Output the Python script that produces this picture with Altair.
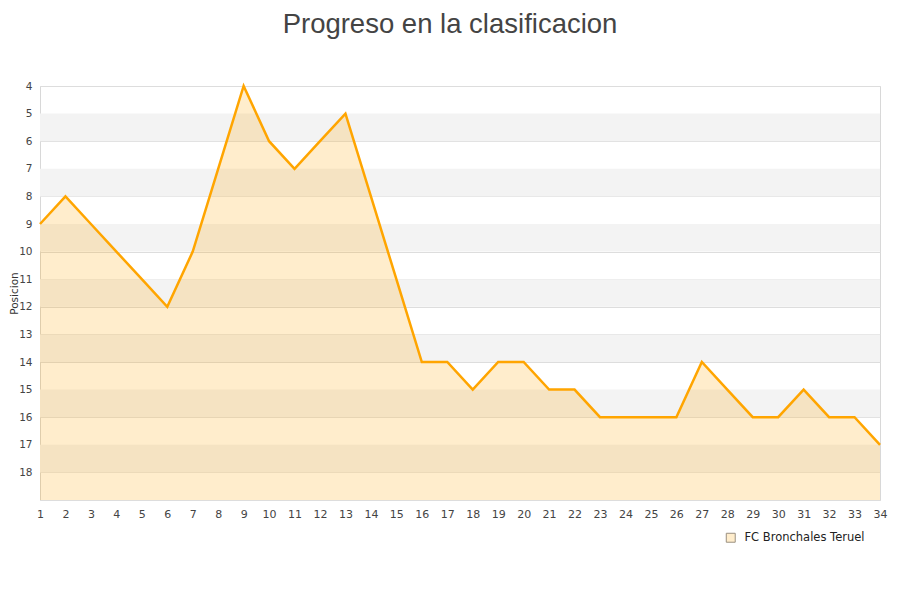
import altair as alt
import pandas as pd

jornadas = list(range(1, 35))
posiciones = [9, 8, 9, 10, 11, 12, 10, 7, 4, 6, 7, 6, 5, 8, 11, 14, 14, 15, 14, 14,
              15, 15, 16, 16, 16, 16, 14, 15, 16, 16, 15, 16, 16, 17]
equipo = "FC Bronchales Teruel"
band_starts = [5, 7, 9, 11, 13, 15, 17]
y_ticks = list(range(4, 20))
x_ticks = list(range(1, 35))
y_min, y_max = 4, 19

df = pd.DataFrame({"Jornada": jornadas, "Posicion": posiciones,
                   "Equipo": [equipo] * len(jornadas), "Base": [y_max] * len(jornadas)})
bands = pd.DataFrame({"y1": band_starts, "y2": [b + 1 for b in band_starts]})

xscale = alt.Scale(domain=[1, 34], nice=False, zero=False)
yscale = alt.Scale(domain=[y_min, y_max], reverse=True, nice=False, zero=False)

band_layer = alt.Chart(bands).mark_rect(color="#f3f3f3").encode(
    y=alt.Y("y1:Q", scale=yscale,
            axis=alt.Axis(values=y_ticks, tickCount=60, format="d", title="Posicion", grid=True,
                          gridColor="#dddddd",
                          ticks=False, domain=False, labelPadding=8, labelOverlap=False,
                          labelExpr="datum.value == 19 ? '' : datum.label",
                          labelFont="DejaVu Sans", labelFontSize=10.5, labelColor="#444444",
                          titleFont="DejaVu Sans", titleFontSize=10.5, titleFontWeight="normal",
                          titleColor="#333333", titleX=-21, titleY=207)),
    y2="y2:Q",
    x=alt.value(0),
    x2=alt.value(840),
)

area = alt.Chart(df).mark_area(opacity=0.2, color="#FFA500").encode(
    x=alt.X("Jornada:Q", scale=xscale,
            axis=alt.Axis(values=x_ticks, tickCount=60, format="d", title=None, grid=False,
                          ticks=False, domain=False,
                          labelPadding=8, labelFont="DejaVu Sans", labelFontSize=11,
                          labelColor="#444444", labelFlush=False, labelOverlap=False)),
    y=alt.Y("Posicion:Q", scale=yscale),
    y2="Base:Q",
)

legend_layer = alt.Chart(df).mark_point(shape="square", filled=True, opacity=0).encode(
    x=alt.X("Jornada:Q", scale=xscale),
    y=alt.Y("Posicion:Q", scale=yscale),
    color=alt.Color("Equipo:N", scale=alt.Scale(range=["#FFEDCC"]),
                    legend=alt.Legend(title=None, orient="none", legendX=685, legendY=446,
                                      symbolType="square", symbolSize=80,
                                      symbolStrokeColor="#9a9080", symbolStrokeWidth=1,
                                      symbolOpacity=1, labelOffset=8,
                                      labelFont="DejaVu Sans", labelFontSize=11.5,
                                      labelColor="#222222")),
)

line = alt.Chart(df).mark_line(color="#FFA500", strokeWidth=2.5).encode(
    x=alt.X("Jornada:Q", scale=xscale),
    y=alt.Y("Posicion:Q", scale=yscale),
)

chart = alt.layer(band_layer, area, line, legend_layer).properties(
    width=840, height=414,
    title=alt.TitleParams("Progreso en la clasificacion", font="Liberation Sans", fontSize=27.5,
                          fontWeight="normal", color="#444444", anchor="middle", offset=43, dx=-10),
    autosize=alt.AutoSizeParams(type="none"),
    padding={"left": 32, "top": 78, "right": 10, "bottom": 90},
).configure_view(stroke="#d8d8d8").configure_axis(labelOverlap=False)

chart.save("out.html", embed_options={"renderer": "svg", "actions": False})
